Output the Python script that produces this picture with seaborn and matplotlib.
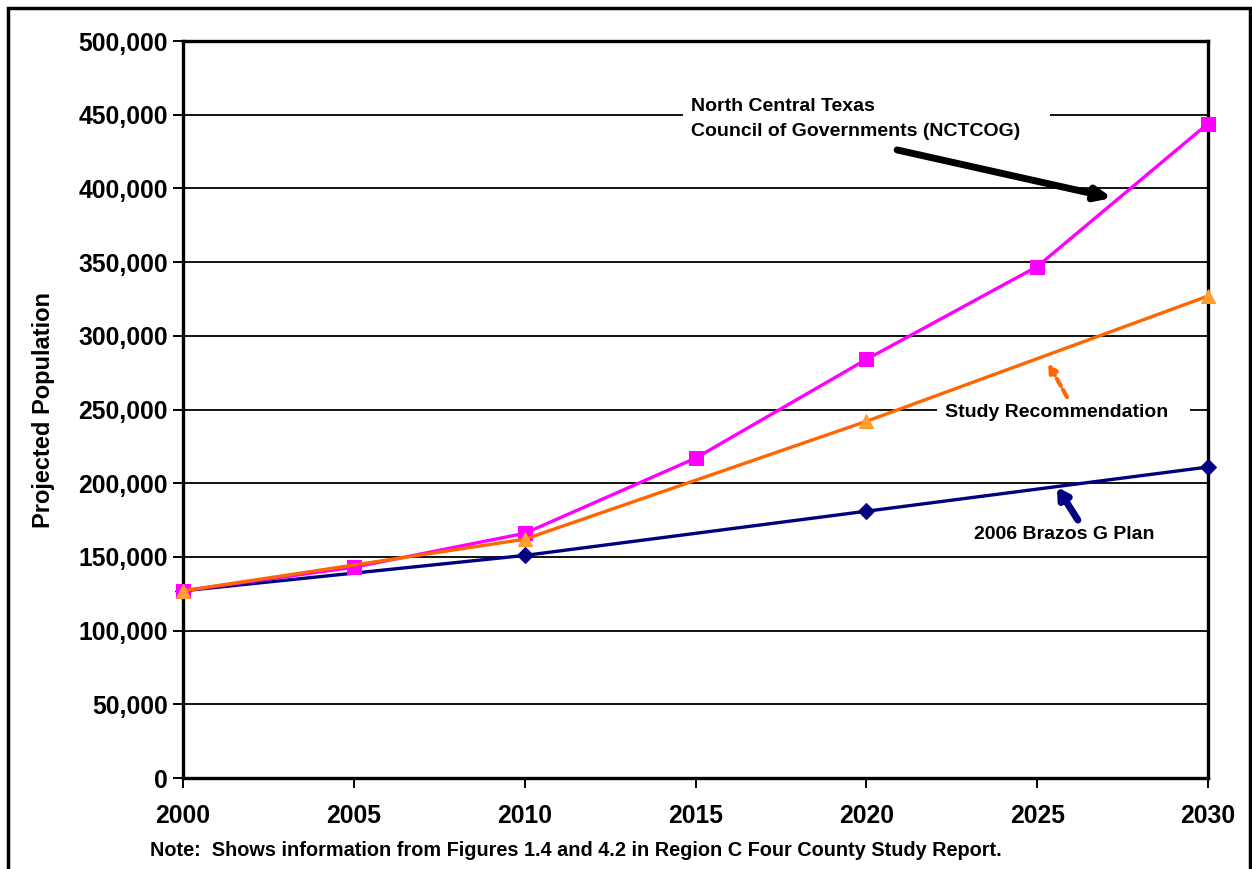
import matplotlib
matplotlib.use("Agg")
import matplotlib.pyplot as plt
from matplotlib.patches import Rectangle
from matplotlib.ticker import FuncFormatter
import seaborn as sns
import pandas as pd

# Projected population by series
nctcog_years = [2000, 2005, 2010, 2015, 2020, 2025, 2030]
nctcog_pop = [127000, 143000, 166000, 217000, 284000, 347000, 444000]

study_years = [2000, 2010, 2020, 2030]
study_pop = [127000, 162000, 242000, 327000]

brazos_years = [2000, 2010, 2020, 2030]
brazos_pop = [127000, 151000, 181000, 211000]

x_ticks = [2000, 2005, 2010, 2015, 2020, 2025, 2030]
y_ticks = list(range(0, 500001, 50000))

sns.set_style("white")
plt.rcParams["font.family"] = ["Liberation Sans", "DejaVu Sans"]
plt.rcParams["font.weight"] = "bold"
plt.rcParams["text.color"] = "black"
plt.rcParams["axes.labelcolor"] = "black"

fig = plt.figure(figsize=(12.52, 8.69), dpi=100)
ax = fig.add_axes([0.1462, 0.1047, 0.8187, 0.8481])

brazos = pd.DataFrame({"year": brazos_years, "pop": brazos_pop})
nctcog = pd.DataFrame({"year": nctcog_years, "pop": nctcog_pop})
study = pd.DataFrame({"year": study_years, "pop": study_pop})

sns.lineplot(data=brazos, x="year", y="pop", ax=ax, color="#000080", lw=2.4,
             marker="D", markersize=8, markeredgecolor="#000080",
             markerfacecolor="#000080", zorder=3, clip_on=False)
sns.lineplot(data=nctcog, x="year", y="pop", ax=ax, color="#FF00FF", lw=2.4,
             marker="s", markersize=10.5, markeredgecolor="#FF00FF",
             markerfacecolor="#FF00FF", zorder=4, clip_on=False)
sns.lineplot(data=study, x="year", y="pop", ax=ax, color="#FF6600", lw=2.4,
             marker="^", markersize=10.5, markeredgecolor="#FF9933",
             markerfacecolor="#FFA030", zorder=5, clip_on=False)

ax.set_xlim(2000, 2030)
ax.set_ylim(0, 500000)
ax.set_xticks(x_ticks)
ax.set_yticks(y_ticks)
ax.yaxis.set_major_formatter(FuncFormatter(lambda v, p: f"{int(v):,}"))
ax.set_axisbelow(True)
ax.grid(axis="y", color="black", lw=1.3)
ax.grid(axis="x", visible=False)

for s in ax.spines.values():
    s.set_color("black")
    s.set_linewidth(2.4)

ax.tick_params(axis="both", direction="out", length=7, width=1.4,
               color="black", labelsize=17.8, labelcolor="black")
ax.tick_params(axis="y", pad=4, left=True)
ax.tick_params(axis="x", pad=12, bottom=True)
for lab in ax.get_xticklabels() + ax.get_yticklabels():
    lab.set_fontweight("bold")

ax.set_xlabel("")
ax.set_ylabel("Projected Population", fontsize=17, fontweight="bold")
ax.yaxis.set_label_coords(-0.125, 0.5)

# White gaps behind the callout labels
ax.add_patch(Rectangle((2014.63, 444000), 10.74, 12000, facecolor="white",
                       edgecolor="none", zorder=1))
ax.add_patch(Rectangle((2022.07, 246000), 7.4, 8000, facecolor="white",
                       edgecolor="none", zorder=1))

ax.text(2014.87, 447000, "North Central Texas\nCouncil of Governments (NCTCOG)",
        fontsize=14, fontweight="bold", ha="left", va="center",
        linespacing=1.65, zorder=6)
ax.text(2025.58, 248300, "Study Recommendation", fontsize=14,
        fontweight="bold", ha="center", va="center", zorder=6)
ax.text(2025.78, 164900, "2006 Brazos G Plan", fontsize=14,
        fontweight="bold", ha="center", va="center", zorder=6)

ax.annotate("", xy=(2027.19, 393500), xytext=(2020.90, 426100),
            arrowprops=dict(arrowstyle="-|>,head_length=0.9,head_width=0.4",
                            color="black", lw=5, shrinkA=0, shrinkB=0),
            zorder=6)
ax.annotate("", xy=(2025.32, 281500), xytext=(2025.87, 258500),
            arrowprops=dict(arrowstyle="-|>,head_length=0.5,head_width=0.25",
                            color="#FF6600", lw=3, linestyle=(0, (2, 1)),
                            shrinkA=0, shrinkB=0),
            zorder=6)
ax.annotate("", xy=(2025.58, 197400), xytext=(2026.19, 175000),
            arrowprops=dict(arrowstyle="-|>,head_length=0.6,head_width=0.35",
                            color="#000080", lw=5, shrinkA=0, shrinkB=0),
            zorder=6)

fig.text(150 / 1252, 1 - 851 / 869,
         "Note:  Shows information from Figures 1.4 and 4.2 in Region C Four County Study Report.",
         fontsize=14.3, fontweight="bold", ha="left", va="center")

# Outer frame around the figure
fig.add_artist(Rectangle((8 / 1252, -0.05), (1250 - 8) / 1252, 0.05 + 1 - 8 / 869,
                         transform=fig.transFigure, fill=False,
                         edgecolor="black", lw=2.5))

fig.savefig("out.png", dpi=100, facecolor="white")
